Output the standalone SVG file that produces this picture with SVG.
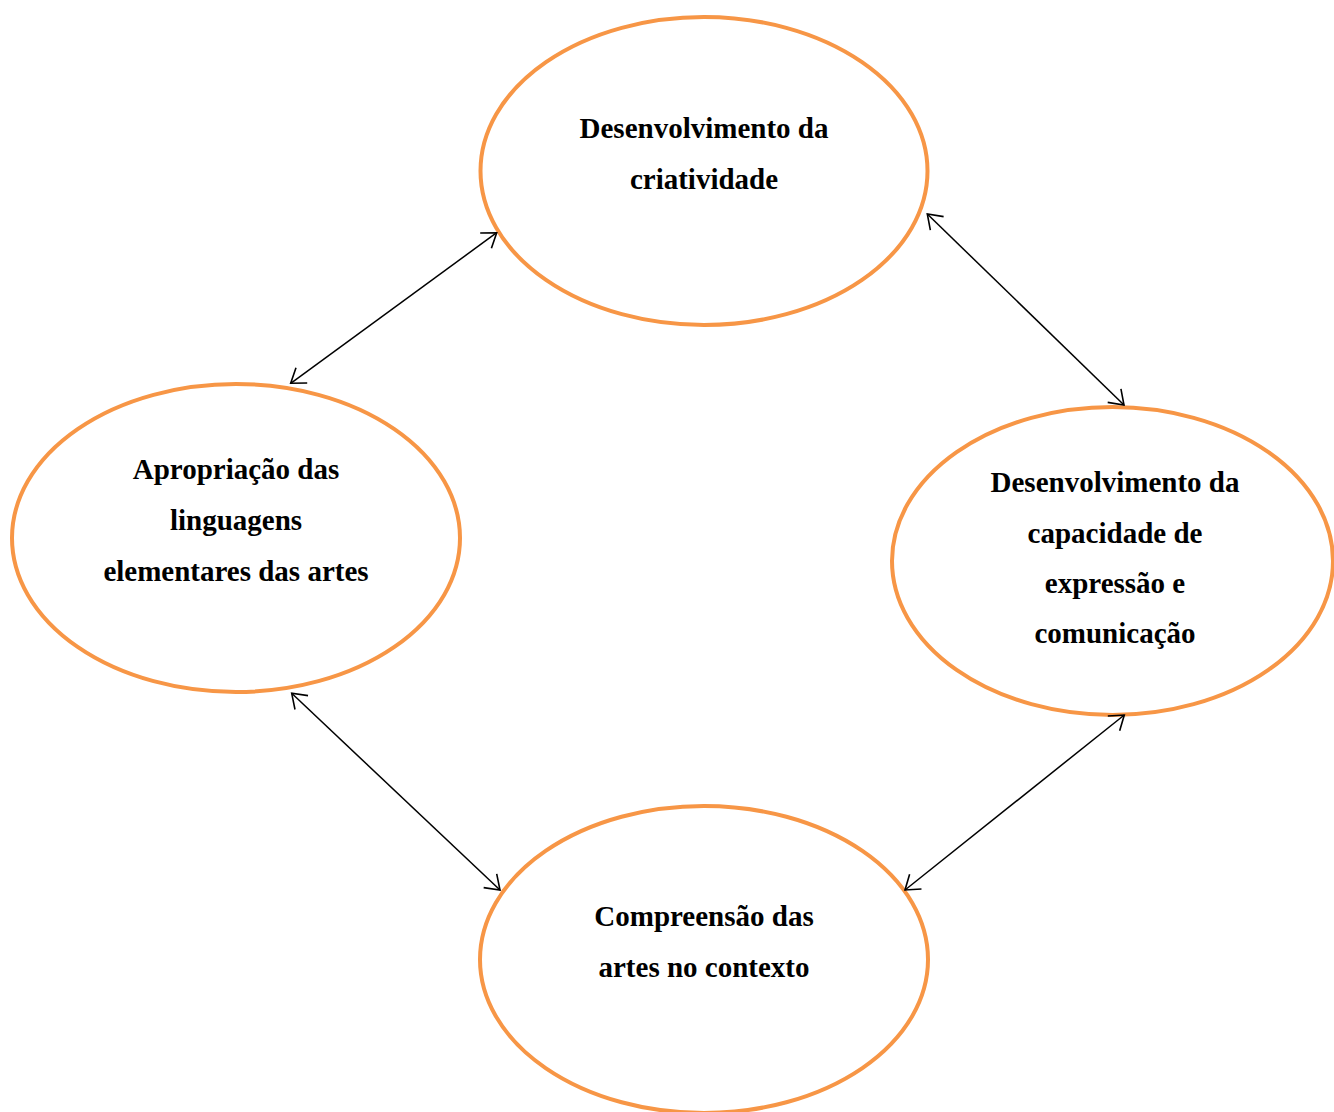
<svg xmlns="http://www.w3.org/2000/svg" width="1334" height="1112" viewBox="0 0 1334 1112">
  <style>
    .node ellipse { fill: #ffffff; stroke: #F79646; stroke-width: 4; }
    .node text { font-family: "Liberation Serif", "Times New Roman", serif; font-weight: bold; font-size: 29px; fill: #000000; text-anchor: middle; }
    .conn line { stroke: #000000; stroke-width: 1.5; fill: none; }
  </style>
  <defs>
    <marker id="arr" markerUnits="userSpaceOnUse" markerWidth="20" markerHeight="24" refX="0" refY="0" orient="auto-start-reverse" overflow="visible">
      <path d="M -13.5 -9.5 L 0 0 L -13.5 9.5" fill="none" stroke="#000000" stroke-width="1.6"/>
    </marker>
  </defs>
  <rect width="1334" height="1112" fill="#ffffff"/>

  <g id="node-criatividade" class="node">
    <ellipse cx="704" cy="171" rx="223.5" ry="154"/>
    <text x="704" y="137.5">Desenvolvimento da</text>
    <text x="704" y="188.5">criatividade</text>
  </g>

  <g id="node-apropriacao" class="node">
    <ellipse cx="236" cy="538" rx="224" ry="154"/>
    <text x="236" y="479">Apropriação das</text>
    <text x="236" y="530">linguagens</text>
    <text x="236" y="580.5">elementares das artes</text>
  </g>

  <g id="node-expressao" class="node">
    <ellipse cx="1112.5" cy="561" rx="220.5" ry="154"/>
    <text x="1115" y="492">Desenvolvimento da</text>
    <text x="1115" y="542.5">capacidade de</text>
    <text x="1115" y="593">expressão e</text>
    <text x="1115" y="643">comunicação</text>
  </g>

  <g id="node-compreensao" class="node">
    <ellipse cx="704" cy="959.5" rx="224" ry="153.5"/>
    <text x="704" y="925.5">Compreensão das</text>
    <text x="704" y="976.5">artes no contexto</text>
  </g>

  <g id="connectors" class="conn">
    <line x1="290.7" y1="383.3" x2="496.7" y2="232.7" marker-start="url(#arr)" marker-end="url(#arr)"/>
    <line x1="927.3" y1="214" x2="1124" y2="405" marker-start="url(#arr)" marker-end="url(#arr)"/>
    <line x1="291.7" y1="693.3" x2="500" y2="890" marker-start="url(#arr)" marker-end="url(#arr)"/>
    <line x1="905" y1="890" x2="1124.3" y2="715" marker-start="url(#arr)" marker-end="url(#arr)"/>
  </g>
</svg>
